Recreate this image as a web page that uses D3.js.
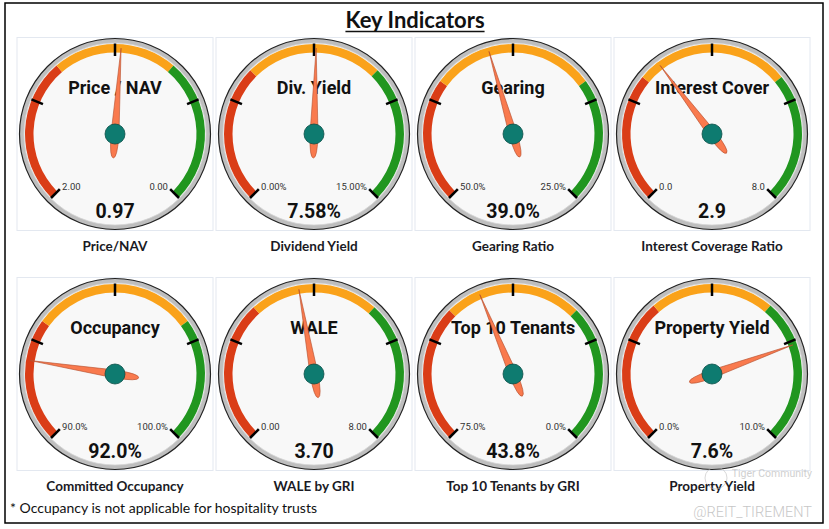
<!DOCTYPE html>
<html>
<head>
<meta charset="utf-8">
<script src="https://cdn.jsdelivr.net/npm/d3@7"></script>
<style>
  body { margin: 0; background: #fff; }
  svg { display: block; }
</style>
</head>
<body>
<svg id="gauges" width="829" height="529"></svg>
<script>
// gauge data, one entry per gauge, left to right then top to bottom
const gaugeTitles = ["Price / NAV", "Div. Yield", "Gearing", "Interest Cover", "Occupancy", "WALE", "Top 10 Tenants", "Property Yield"];
const captions = ["Price/NAV", "Dividend Yield", "Gearing Ratio", "Interest Coverage Ratio", "Committed Occupancy", "WALE by GRI", "Top 10 Tenants by GRI", "Property Yield"];
const values = [0.97, 7.58, 39.0, 2.9, 92.0, 3.70, 43.8, 7.6];
const valueLabels = ["0.97", "7.58%", "39.0%", "2.9", "92.0%", "3.70", "43.8%", "7.6%"];
const scaleFrom = [2, 0, 50, 0, 90, 0, 75, 0];
const scaleTo = [0, 15, 25, 8, 100, 8, 0, 10];
const fromLabels = ["2.00", "0.00%", "50.0%", "0.0", "90.0%", "0.00", "75.0%", "0.0%"];
const toLabels = ["0.00", "15.00%", "25.0%", "8.0", "100.0%", "8.00", "0.0%", "10.0%"];
const redUntil = [1.3, 5, 42.5, 2.5, 93, 2.75, 50, 3.5];
const amberUntil = [0.7, 10, 32.5, 5.5, 97, 5.25, 25, 6.5];

const svg = d3.select("#gauges");

// outer frame
svg.append("rect")
  .attr("x", 5).attr("y", 3)
  .attr("width", 818).attr("height", 520)
  .attr("fill", "#fff")
  .attr("stroke", "#000")
  .attr("stroke-width", 1.5);

const title = svg.append("text")
  .attr("x", 415).attr("y", 28)
  .attr("text-anchor", "middle")
  .attr("font-family", "Lato, sans-serif")
  .attr("font-weight", "bold")
  .attr("font-size", 22)
  .attr("fill", "#111")
  .text("Key Indicators");
const tb = title.node().getBBox();
svg.append("line")
  .attr("x1", tb.x).attr("x2", tb.x + tb.width)
  .attr("y1", 31.5).attr("y2", 31.5)
  .attr("stroke", "#111").attr("stroke-width", 1.5);

const colX = d3.scalePoint().domain([0, 1, 2, 3]).range([115, 712]);
const rowY = d3.scalePoint().domain([0, 1]).range([134, 374]);

const bandColors = ["#da3d17", "#faa21a", "#21961f"];
const deg = Math.PI / 180;

values.forEach((v, i) => {
  const cx = colX(i % 4), cy = rowY(Math.floor(i / 4));
  const angle = d3.scaleLinear().domain([scaleFrom[i], scaleTo[i]]).range([-135, 135]);

  // panel border
  svg.append("rect")
    .attr("x", cx - 98).attr("y", cy - 96.5)
    .attr("width", 196).attr("height", 193)
    .attr("fill", "#fff")
    .attr("stroke", "#e3e8f0");

  const g = svg.append("g").attr("transform", `translate(${cx},${cy})`);

  g.append("circle").attr("r", 95.5)
    .attr("fill", "#bebebe")
    .attr("stroke", "#222").attr("stroke-width", 1.2);
  g.append("circle").attr("r", 91)
    .attr("fill", "#f8f8f8")
    .attr("stroke", "#d6d6d6").attr("stroke-width", 0.8);

  // coloured bands
  const stops = [scaleFrom[i], redUntil[i], amberUntil[i], scaleTo[i]];
  const arc = d3.arc().innerRadius(81.5).outerRadius(90);
  bandColors.forEach((c, k) => {
    const a0 = angle(stops[k]) * deg, a1 = angle(stops[k + 1]) * deg;
    g.append("path")
      .attr("d", arc({ startAngle: Math.min(a0, a1), endAngle: Math.max(a0, a1) }))
      .attr("fill", c);
  });

  // major ticks
  const ticks = d3.range(5).map(k => scaleFrom[i] + (scaleTo[i] - scaleFrom[i]) * k / 4);
  g.selectAll(".tick")
    .data(ticks)
    .enter().append("line")
    .attr("x1", d => 78 * Math.sin(angle(d) * deg))
    .attr("y1", d => -78 * Math.cos(angle(d) * deg))
    .attr("x2", d => 90.5 * Math.sin(angle(d) * deg))
    .attr("y2", d => -90.5 * Math.cos(angle(d) * deg))
    .attr("stroke", "#000")
    .attr("stroke-width", 2.5);

  // end labels
  const lx = 77 * Math.sin(135 * deg);
  g.append("text")
    .attr("x", -lx + 1.5).attr("y", lx + 2)
    .attr("font-family", "Roboto, sans-serif")
    .attr("font-size", 9.5)
    .attr("fill", "#333")
    .text(fromLabels[i]);
  g.append("text")
    .attr("x", lx - 1.5).attr("y", lx + 2)
    .attr("text-anchor", "end")
    .attr("font-family", "Roboto, sans-serif")
    .attr("font-size", 9.5)
    .attr("fill", "#333")
    .text(toLabels[i]);

  g.append("text")
    .attr("y", -40)
    .attr("text-anchor", "middle")
    .attr("font-family", "Roboto, sans-serif")
    .attr("font-weight", "bold")
    .attr("font-size", 18)
    .attr("fill", "#111")
    .text(gaugeTitles[i]);

  g.append("text")
    .attr("y", 83.5)
    .attr("text-anchor", "middle")
    .attr("font-family", "Roboto, sans-serif")
    .attr("font-weight", "bold")
    .attr("font-size", 19.5)
    .attr("fill", "#111")
    .text(valueLabels[i]);

  // needle and pivot
  g.append("path")
    .attr("d", "M0,-86 L4,0 Q4,24 0,24 Q-4,24 -4,0 Z")
    .attr("transform", `rotate(${angle(v)})`)
    .attr("fill", "#f97a4e")
    .attr("stroke", "#b5502f")
    .attr("stroke-width", 0.6);
  g.append("circle").attr("r", 10)
    .attr("fill", "#0e7b70")
    .attr("stroke", "#0a4f48").attr("stroke-width", 0.8);

  svg.append("text")
    .attr("x", cx).attr("y", cy + 117)
    .attr("text-anchor", "middle")
    .attr("font-family", "Lato, sans-serif")
    .attr("font-weight", "bold")
    .attr("font-size", 13.5)
    .attr("fill", "#1a1a24")
    .text(captions[i]);
});

svg.append("text")
  .attr("x", 10).attr("y", 513)
  .attr("font-family", "Lato, sans-serif")
  .attr("font-size", 14)
  .attr("fill", "#111")
  .text("* Occupancy is not applicable for hospitality trusts");

// watermark
const wm = svg.append("g").attr("opacity", 0.55);
wm.append("circle")
  .attr("cx", 716).attr("cy", 478).attr("r", 11)
  .attr("fill", "none").attr("stroke", "#bbb").attr("stroke-width", 1);
wm.append("text")
  .attr("x", 812).attr("y", 477)
  .attr("text-anchor", "end")
  .attr("font-family", "Roboto, sans-serif")
  .attr("font-size", 10.5)
  .attr("fill", "#aaa")
  .text("Tiger Community");
wm.append("text")
  .attr("x", 812).attr("y", 517)
  .attr("text-anchor", "end")
  .attr("font-family", "Roboto, sans-serif")
  .attr("font-weight", 300)
  .attr("font-size", 14.5)
  .attr("fill", "#999")
  .text("@REIT_TIREMENT");
</script>
</body>
</html>
